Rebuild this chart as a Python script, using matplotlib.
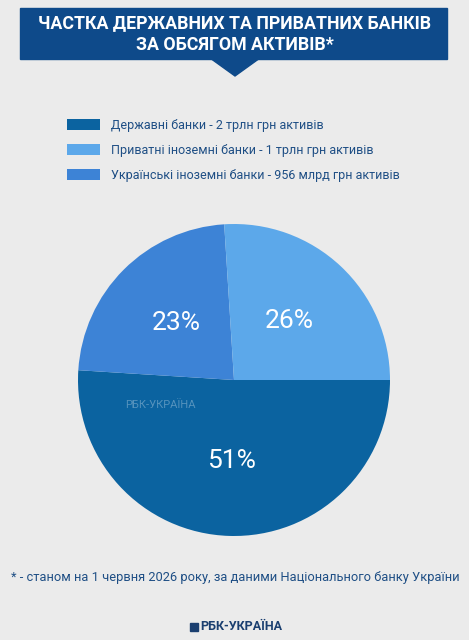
import matplotlib
matplotlib.use('Agg')
import matplotlib.pyplot as plt
from matplotlib.patches import Rectangle, Polygon

plt.rcParams['font.family'] = ['Roboto', 'DejaVu Sans']

# дані
title = 'ЧАСТКА ДЕРЖАВНИХ ТА ПРИВАТНИХ БАНКІВ\nЗА ОБСЯГОМ АКТИВІВ*'
labels = ['Державні банки - 2 трлн грн активів',
          'Українські іноземні банки - 956 млрд грн активів',
          'Приватні іноземні банки - 1 трлн грн активів']
shares = [51, 23, 26]
colors = ['#0b63a0', '#3d83d6', '#5ca8ea']
legend_order = [0, 2, 1]
note = '* - станом на 1 червня 2026 року, за даними Національного банку України'

W, H = 469, 640
bg = '#ebebeb'
navy = '#0e4a8a'
txt = '#1f4f85'

fig = plt.figure(figsize=(W / 100, H / 100), dpi=100, facecolor=bg)


def fy(y):
    return 1 - y / H


# title box with arrow
fig.patches.append(Rectangle((20 / W, fy(59)), 427 / W, 51 / H,
                             transform=fig.transFigure, color=navy, zorder=1))
fig.patches.append(Polygon([(210 / W, fy(58)), (260 / W, fy(58)), (235 / W, fy(76))],
                           closed=True, transform=fig.transFigure, color=navy, zorder=1))
fig.text(235 / W, fy(34), title, ha='center', va='center', color='white',
         fontsize=12.8, fontweight='bold', linespacing=1.25)

# pie
cx, cy, r = 234, 380, 156
ax = fig.add_axes([(cx - r) / W, fy(cy + r), 2 * r / W, 2 * r / H])
wedges, _, autotexts = ax.pie(shares, colors=colors, startangle=0, counterclock=False,
                              autopct='%d%%', pctdistance=0.52,
                              wedgeprops=dict(linewidth=0))
for t in autotexts:
    t.set_color('white')
    t.set_fontsize(19)
ax.set_xlim(-1, 1)
ax.set_ylim(-1, 1)
ax.set_aspect('equal')

# watermark
ax.text(-0.7, -0.16, 'РБК-УКРАЇНА', color='white', alpha=0.3, fontsize=8,
        ha='left', va='center')

# legend
handles = [wedges[i] for i in legend_order]
leg_labels = [labels[i] for i in legend_order]
leg = fig.legend(handles, leg_labels, loc='upper left', bbox_to_anchor=(62 / W, fy(114)),
                 frameon=False, fontsize=9, handlelength=2.6, handleheight=1.0,
                 labelspacing=0.95, handletextpad=0.9, borderaxespad=0)
for t in leg.get_texts():
    t.set_color(txt)

# footnote and logo
fig.text(235 / W, fy(578), note, ha='center', va='center', color=txt, fontsize=9.3)
fig.text(200 / W, fy(627), 'РБК-УКРАЇНА', ha='left', va='center', color='#1b3f70',
         fontsize=9, fontweight='bold')
fig.patches.append(Rectangle((190 / W, fy(631)), 8 / W, 8 / H,
                             transform=fig.transFigure, color='#1b3f70'))

fig.savefig('out.png', dpi=100, facecolor=bg)
